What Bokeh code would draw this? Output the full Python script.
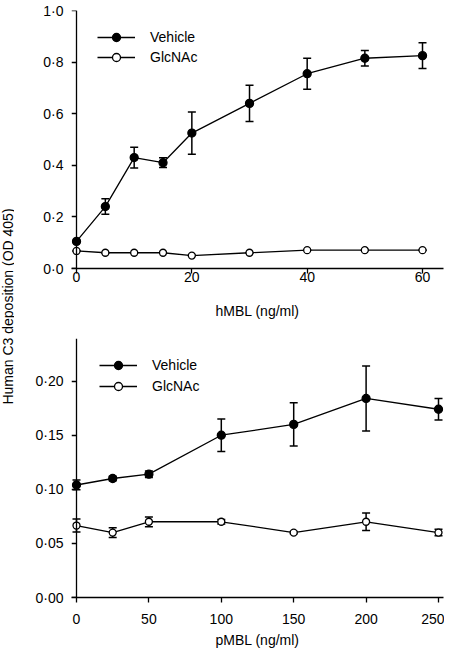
from bokeh.plotting import figure
from bokeh.models import (Range1d, FixedTicker, CustomJSTickFormatter, ColumnDataSource,
                          Whisker, TeeHead, Legend, LegendItem, Label, LinearAxis)
from bokeh.layouts import row, column
from bokeh.embed import file_html
from bokeh.resources import INLINE

# ---------------- data ----------------
# top panel: hMBL
h_dose = [0, 5, 10, 15, 20, 30, 40, 50, 60]
h_vehicle = [0.105, 0.24, 0.43, 0.41, 0.525, 0.64, 0.755, 0.815, 0.825]
h_vehicle_err = [0.0, 0.03, 0.04, 0.019, 0.082, 0.07, 0.06, 0.03, 0.05]
h_glcnac = [0.068, 0.061, 0.061, 0.061, 0.05, 0.061, 0.071, 0.071, 0.071]
h_glcnac_err = [0.0, 0.0, 0.0, 0.0, 0.0, 0.0, 0.0, 0.0, 0.0]

# bottom panel: pMBL
p_dose = [0, 25, 50, 100, 150, 200, 250]
p_vehicle = [0.104, 0.110, 0.114, 0.150, 0.160, 0.184, 0.174]
p_vehicle_err = [0.0045, 0.002, 0.003, 0.015, 0.02, 0.03, 0.01]
p_glcnac = [0.0665, 0.060, 0.070, 0.070, 0.060, 0.070, 0.060]
p_glcnac_err = [0.006, 0.0045, 0.0045, 0.002, 0.001, 0.008, 0.003]

# tick labels / axes
h_xticks = [0, 20, 40, 60]
h_yticks = [0.0, 0.2, 0.4, 0.6, 0.8, 1.0]
p_xticks = [0, 50, 100, 150, 200, 250]
p_yticks = [0.0, 0.05, 0.10, 0.15, 0.20]
series_names = ["Vehicle", "GlcNAc"]
h_xlabel = "hMBL (ng/ml)"
p_xlabel = "pMBL (ng/ml)"
ylabel = "Human C3 deposition (OD 405)"

FONT = "Liberation Sans"
FS = "14px"
LW = 1.3


def base_style(ax):
    ax.axis_line_width = LW
    ax.axis_line_color = "black"
    ax.major_tick_line_width = LW
    ax.major_tick_line_color = "black"
    ax.major_tick_out = 5
    ax.major_tick_in = 0
    ax.minor_tick_line_color = None
    ax.major_label_text_font = FONT
    ax.major_label_text_font_size = FS
    ax.major_label_text_color = "black"
    ax.axis_label_text_font = FONT
    ax.axis_label_text_font_size = FS
    ax.axis_label_text_font_style = "normal"
    ax.axis_label_text_color = "black"


def style_axes(p, xticks, yticks, ydec, xlab, x_standoff, xlab_standoff):
    p.outline_line_color = None
    p.grid.visible = False
    p.background_fill_color = "white"
    p.border_fill_color = "white"
    xa = p.xaxis[0]
    ya = p.yaxis[0]
    base_style(xa)
    base_style(ya)
    xa.ticker = FixedTicker(ticks=xticks)
    xa.formatter = CustomJSTickFormatter(code="return tick.toFixed(0);")
    xa.major_label_standoff = x_standoff
    xa.axis_label = xlab
    xa.axis_label_standoff = xlab_standoff
    # frame-edge axis carries only the tick labels
    ya.ticker = FixedTicker(ticks=yticks)
    ya.formatter = CustomJSTickFormatter(
        code="return tick.toFixed(%d).replace('.', '\\u00b7');" % ydec)
    ya.axis_line_color = None
    ya.major_tick_line_color = None
    ya.major_tick_out = 0
    ya.major_label_standoff = 8
    # axis line and ticks drawn at x = 0
    ax0 = LinearAxis(fixed_location=0, ticker=FixedTicker(ticks=yticks))
    base_style(ax0)
    ax0.major_label_text_color = None
    ax0.major_label_text_font_size = "1px"
    ax0.major_label_standoff = 0
    p.add_layout(ax0, "left")


def add_series(p, x, y, err, filled, msize):
    lo = [a - e for a, e in zip(y, err)]
    hi = [a + e for a, e in zip(y, err)]
    src = ColumnDataSource(dict(x=x, y=y, lo=lo, hi=hi))
    w = Whisker(base="x", upper="hi", lower="lo", source=src, level="underlay",
                line_color="black", line_width=1.5,
                upper_head=TeeHead(size=8, line_width=1.5, line_color="black"),
                lower_head=TeeHead(size=8, line_width=1.5, line_color="black"))
    p.add_layout(w)
    ln = p.line("x", "y", source=src, line_color="black", line_width=LW)
    mk = p.scatter("x", "y", source=src, marker="circle", size=msize,
                   line_color="black", line_width=LW,
                   fill_color="black" if filled else "white")
    return ln, mk


def make_panel(height, xr, yr, min_top, min_bottom, dose, veh, veh_err, glc, glc_err,
               xticks, yticks, ydec, xlab, x_standoff, xlab_standoff, leg_loc, leg_spacing):
    p = figure(width=430, height=height, x_range=xr, y_range=yr,
               output_backend="svg", toolbar_location=None,
               min_border_left=57, min_border_right=1,
               min_border_top=min_top, min_border_bottom=min_bottom)
    style_axes(p, xticks, yticks, ydec, xlab, x_standoff, xlab_standoff)
    l1, m1 = add_series(p, dose, veh, veh_err, True, 8)
    l2, m2 = add_series(p, dose, glc, glc_err, False, 7)
    leg = Legend(items=[LegendItem(label=series_names[0], renderers=[l1, m1]),
                        LegendItem(label=series_names[1], renderers=[l2, m2])],
                 location=leg_loc, glyph_width=38, glyph_height=20, label_height=20,
                 label_standoff=15, spacing=leg_spacing, padding=0, margin=0,
                 border_line_color=None, background_fill_alpha=0,
                 label_text_font=FONT, label_text_font_size=FS, label_text_color="black")
    p.add_layout(leg)
    return p


top = make_panel(325, Range1d(-0.87, 63.64), Range1d(0, 1.0), 10, 57,
                 h_dose, h_vehicle, h_vehicle_err, h_glcnac, h_glcnac_err,
                 h_xticks, h_yticks, 1, h_xlabel, -2, 18, (26, 201), 0)
bot = make_panel(325, Range1d(-3.45, 253.45), Range1d(0, 0.2394), 13, 51,
                 p_dose, p_vehicle, p_vehicle_err, p_glcnac, p_glcnac_err,
                 p_xticks, p_yticks, 2, p_xlabel, 11, 5, (28, 201), 1)

lab = figure(width=14, height=650, x_range=Range1d(0, 14), y_range=Range1d(0, 650),
             x_axis_type=None, y_axis_type=None, output_backend="svg",
             toolbar_location=None, min_border=0, outline_line_color=None)
lab.add_layout(Label(x=7, y=344, text=ylabel, angle=90, angle_units="deg",
                     text_align="center", text_baseline="middle",
                     text_font=FONT, text_font_size=FS, text_color="black"))

layout = row(lab, column(top, bot))
open("out.html", "w").write(file_html(layout, INLINE))
